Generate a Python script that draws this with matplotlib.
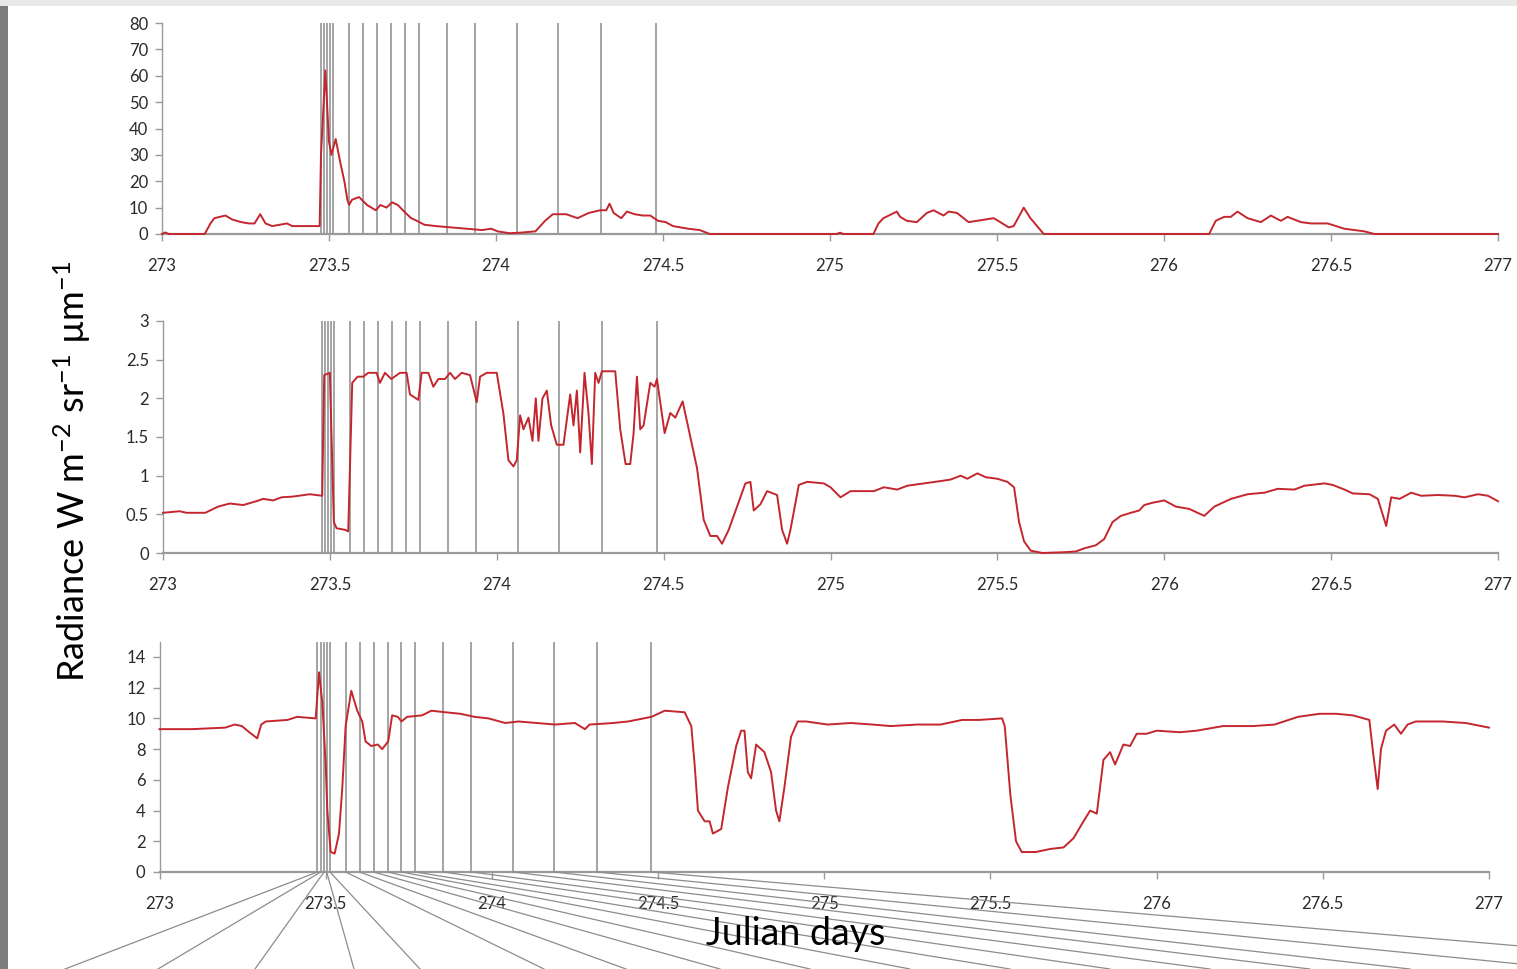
import matplotlib
matplotlib.use("Agg")
import matplotlib.pyplot as plt
from matplotlib.lines import Line2D
from matplotlib.patches import Rectangle

plt.rcParams['font.family'] = ['Lato', 'DejaVu Sans']
plt.rcParams['mathtext.fontset'] = 'custom'
plt.rcParams['mathtext.rm'] = 'Lato'
plt.rcParams['mathtext.it'] = 'Lato:italic'
plt.rcParams['mathtext.bf'] = 'Lato:bold'

# ---------------- data ----------------
xticks = [273, 273.5, 274, 274.5, 275, 275.5, 276, 276.5, 277]
xtick_labels = ['273', '273.5', '274', '274.5', '275', '275.5', '276', '276.5', '277']

event_days = [273.475, 273.485, 273.495, 273.503, 273.513, 273.560, 273.602, 273.644,
              273.686, 273.728, 273.770, 273.854, 273.938, 274.064, 274.187, 274.315, 274.480]

top_days = [273.000, 273.010, 273.020, 273.128, 273.145, 273.157, 273.190, 273.210, 273.237, 273.260,
            273.277, 273.294, 273.310, 273.330, 273.374, 273.390, 273.472, 273.476, 273.489, 273.500,
            273.507, 273.520, 273.534, 273.546, 273.555, 273.560, 273.569, 273.590, 273.614, 273.640,
            273.654, 273.672, 273.689, 273.706, 273.729, 273.746, 273.763, 273.786, 273.820, 273.866,
            273.912, 273.958, 273.986, 274.005, 274.040, 274.072, 274.118, 274.147, 274.170, 274.210,
            274.244, 274.278, 274.312, 274.330, 274.340, 274.352, 274.375, 274.392, 274.415, 274.440,
            274.462, 274.485, 274.508, 274.530, 274.575, 274.610, 274.640, 275.020, 275.030, 275.040,
            275.130, 275.145, 275.160, 275.200, 275.210, 275.230, 275.260, 275.290, 275.310, 275.340,
            275.355, 275.380, 275.415, 275.440, 275.465, 275.490, 275.510, 275.535, 275.550, 275.580,
            275.600, 275.640, 276.135, 276.155, 276.180, 276.200, 276.220, 276.250, 276.290, 276.320,
            276.350, 276.370, 276.410, 276.440, 276.490, 276.540, 276.600, 276.630, 277.000]
top_vals = [0.0, 0.6, 0.0, 0.0, 4.0, 6.0, 7.0, 5.5, 4.5, 4.0,
            4.0, 7.5, 4.0, 3.0, 4.0, 3.0, 3.0, 30.0, 62.0, 35.0,
            30.0, 36.0, 27.0, 20.0, 13.0, 11.0, 13.0, 14.0, 11.0, 9.0,
            11.0, 10.0, 12.0, 11.0, 8.0, 6.0, 5.0, 3.5, 3.0, 2.5,
            2.0, 1.5, 2.0, 1.0, 0.3, 0.5, 1.0, 5.0, 7.5, 7.5,
            6.0, 8.0, 9.0, 9.0, 11.5, 8.0, 6.0, 8.5, 7.5, 7.0,
            7.0, 5.0, 4.5, 3.0, 2.0, 1.5, 0.0, 0.0, 0.5, 0.0,
            0.0, 4.0, 6.0, 8.5, 6.5, 5.0, 4.5, 8.0, 9.0, 7.0,
            8.5, 8.0, 4.5, 5.0, 5.5, 6.0, 4.5, 2.5, 3.0, 10.0,
            6.0, 0.0, 0.0, 5.0, 6.5, 6.5, 8.5, 6.0, 4.5, 7.0,
            5.0, 6.5, 4.5, 4.0, 4.0, 2.0, 1.0, 0.0, 0.0]

mid_days = [273.000, 273.050, 273.070, 273.127, 273.165, 273.200, 273.240, 273.280, 273.300, 273.330,
            273.355, 273.390, 273.440, 273.477, 273.483, 273.500, 273.505, 273.512, 273.520, 273.545,
            273.555, 273.567, 273.583, 273.600, 273.615, 273.640, 273.650, 273.665, 273.684, 273.710,
            273.730, 273.740, 273.765, 273.775, 273.795, 273.810, 273.825, 273.845, 273.860, 273.875,
            273.895, 273.920, 273.940, 273.950, 273.970, 274.000, 274.020, 274.035, 274.050, 274.060,
            274.070, 274.080, 274.095, 274.107, 274.117, 274.125, 274.137, 274.150, 274.163, 274.180,
            274.200, 274.220, 274.230, 274.240, 274.250, 274.263, 274.275, 274.285, 274.295, 274.305,
            274.315, 274.355, 274.370, 274.386, 274.400, 274.410, 274.420, 274.430, 274.440, 274.460,
            274.473, 274.480, 274.503, 274.520, 274.535, 274.557, 274.580, 274.600, 274.620, 274.640,
            274.660, 274.675, 274.695, 274.720, 274.745, 274.760, 274.770, 274.790, 274.810, 274.840,
            274.855, 274.870, 274.880, 274.905, 274.930, 274.980, 275.000, 275.030, 275.060, 275.130,
            275.160, 275.200, 275.230, 275.280, 275.330, 275.360, 275.390, 275.410, 275.440, 275.465,
            275.500, 275.530, 275.550, 275.565, 275.580, 275.600, 275.635, 275.700, 275.735, 275.760,
            275.795, 275.820, 275.845, 275.870, 275.900, 275.925, 275.940, 275.965, 276.000, 276.035,
            276.075, 276.100, 276.120, 276.150, 276.200, 276.250, 276.300, 276.340, 276.390, 276.420,
            276.480, 276.505, 276.540, 276.565, 276.615, 276.640, 276.665, 276.680, 276.705, 276.740,
            276.770, 276.820, 276.870, 276.900, 276.940, 276.970, 277.000]
mid_vals = [0.52, 0.54, 0.52, 0.52, 0.60, 0.64, 0.62, 0.67, 0.70, 0.68,
            0.72, 0.73, 0.76, 0.74, 2.30, 2.33, 1.50, 0.40, 0.32, 0.30,
            0.28, 2.20, 2.28, 2.28, 2.33, 2.33, 2.20, 2.33, 2.25, 2.33,
            2.33, 2.05, 1.98, 2.33, 2.33, 2.15, 2.25, 2.25, 2.33, 2.25,
            2.33, 2.30, 1.95, 2.28, 2.33, 2.33, 1.80, 1.20, 1.12, 1.20,
            1.78, 1.60, 1.75, 1.45, 2.00, 1.45, 2.00, 2.10, 1.65, 1.40,
            1.40, 2.05, 1.65, 2.10, 1.30, 2.33, 1.80, 1.15, 2.33, 2.20,
            2.35, 2.35, 1.60, 1.15, 1.15, 1.55, 2.28, 1.60, 1.65, 2.20,
            2.15, 2.25, 1.55, 1.81, 1.75, 1.96, 1.50, 1.10, 0.43, 0.22,
            0.22, 0.12, 0.30, 0.60, 0.90, 0.92, 0.55, 0.63, 0.80, 0.75,
            0.30, 0.12, 0.30, 0.88, 0.92, 0.90, 0.85, 0.72, 0.80, 0.80,
            0.85, 0.82, 0.87, 0.90, 0.93, 0.95, 1.00, 0.96, 1.03, 0.98,
            0.96, 0.92, 0.85, 0.40, 0.15, 0.03, 0.00, 0.01, 0.02, 0.06,
            0.10, 0.18, 0.40, 0.48, 0.52, 0.55, 0.62, 0.65, 0.68, 0.60,
            0.57, 0.52, 0.48, 0.60, 0.70, 0.76, 0.78, 0.83, 0.82, 0.87,
            0.90, 0.88, 0.82, 0.77, 0.76, 0.70, 0.35, 0.72, 0.70, 0.78,
            0.74, 0.75, 0.74, 0.72, 0.76, 0.74, 0.67]

bot_days = [273.000, 273.097, 273.198, 273.226, 273.248, 273.270, 273.294, 273.306, 273.320, 273.385,
            273.414, 273.470, 273.480, 273.490, 273.500, 273.505, 273.515, 273.527, 273.540, 273.550,
            273.560, 273.577, 273.595, 273.610, 273.620, 273.637, 273.657, 273.670, 273.688, 273.700,
            273.717, 273.728, 273.745, 273.790, 273.818, 273.860, 273.905, 273.948, 273.990, 274.040,
            274.080, 274.135, 274.190, 274.250, 274.280, 274.294, 274.365, 274.410, 274.480, 274.520,
            274.580, 274.600, 274.610, 274.620, 274.640, 274.655, 274.665, 274.690, 274.710, 274.735,
            274.750, 274.760, 274.770, 274.780, 274.795, 274.820, 274.840, 274.855, 274.865, 274.880,
            274.900, 274.920, 274.945, 275.010, 275.080, 275.145, 275.200, 275.280, 275.350, 275.415,
            275.465, 275.535, 275.543, 275.560, 275.577, 275.594, 275.636, 275.680, 275.720, 275.750,
            275.780, 275.800, 275.820, 275.840, 275.860, 275.875, 275.900, 275.920, 275.940, 275.970,
            276.000, 276.070, 276.120, 276.200, 276.290, 276.355, 276.425, 276.490, 276.540, 276.590,
            276.640, 276.650, 276.665, 276.675, 276.690, 276.715, 276.735, 276.755, 276.780, 276.860,
            276.930, 277.000]
bot_vals = [9.3, 9.3, 9.4, 9.6, 9.5, 9.1, 8.7, 9.6, 9.8, 9.9,
            10.1, 10.0, 13.0, 11.0, 7.0, 4.0, 1.3, 1.2, 2.5, 5.5,
            9.5, 11.8, 10.5, 9.8, 8.5, 8.2, 8.3, 8.0, 8.5, 10.2,
            10.1, 9.8, 10.1, 10.2, 10.5, 10.4, 10.3, 10.1, 10.0, 9.7,
            9.8, 9.7, 9.6, 9.7, 9.3, 9.6, 9.7, 9.8, 10.1, 10.5,
            10.4, 9.5, 7.0, 4.0, 3.3, 3.3, 2.5, 2.8, 5.5, 8.2,
            9.2, 9.2, 6.5, 6.1, 8.3, 7.8, 6.5, 4.0, 3.3, 5.5,
            8.8, 9.8, 9.8, 9.6, 9.7, 9.6, 9.5, 9.6, 9.6, 9.9,
            9.9, 10.0, 9.5, 5.0, 2.0, 1.3, 1.3, 1.5, 1.6, 2.2,
            3.3, 4.0, 3.8, 7.3, 7.8, 7.0, 8.3, 8.2, 9.0, 9.0,
            9.2, 9.1, 9.2, 9.5, 9.5, 9.6, 10.1, 10.3, 10.3, 10.2,
            9.9, 8.0, 5.4, 8.0, 9.2, 9.6, 9.0, 9.6, 9.8, 9.8,
            9.7, 9.4]

top_yticks = [0, 10, 20, 30, 40, 50, 60, 70, 80]
mid_yticks = [0, 0.5, 1, 1.5, 2, 2.5, 3]
mid_ytick_labels = ['0', '0.5', '1', '1.5', '2', '2.5', '3']
bot_yticks = [0, 2, 4, 6, 8, 10, 12, 14]

# ---------------- layout ----------------
W, H = 1517, 969
fig = plt.figure(figsize=(W / 100, H / 100), dpi=100)
fig.patch.set_facecolor('white')


def rect(left, right, top, bottom):
    return [left / W, 1 - bottom / H, (right - left) / W, (bottom - top) / H]


ax1 = fig.add_axes(rect(162, 1498, 23, 234))
ax2 = fig.add_axes(rect(163, 1498, 321, 553))
ax3 = fig.add_axes(rect(159.5, 1489, 641.6, 872))

RED = '#c4262e'
VGRAY = '#8c8c8c'
SPINE = '#9a9a9a'


def style(ax, ylim, yticks, ylabels=None):
    ax.set_facecolor('none')
    ax.set_xlim(273, 277)
    ax.set_ylim(*ylim)
    ax.set_xticks(xticks)
    ax.set_xticklabels(xtick_labels)
    ax.set_yticks(yticks)
    if ylabels is not None:
        ax.set_yticklabels(ylabels)
    for s in ('top', 'right'):
        ax.spines[s].set_visible(False)
    ax.spines['left'].set_color(SPINE)
    ax.spines['left'].set_linewidth(1.0)
    ax.spines['bottom'].set_color(SPINE)
    ax.spines['bottom'].set_linewidth(1.6)
    ax.tick_params(axis='x', direction='out', length=5, width=1, color=SPINE,
                   pad=12, labelsize=12, labelcolor='#2a2a2a')
    ax.tick_params(axis='y', direction='out', length=5, width=1, color=SPINE,
                   pad=5, labelsize=12, labelcolor='#2a2a2a')
    for v in event_days:
        ax.axvline(v, color=VGRAY, lw=1.1, zorder=1)


style(ax1, (0, 80), top_yticks)
style(ax2, (0, 3), mid_yticks, mid_ytick_labels)
style(ax3, (0, 15), bot_yticks)

ax1.plot(top_days, top_vals, color=RED, lw=1.4, zorder=3, clip_on=False)
ax2.plot(mid_days, mid_vals, color=RED, lw=1.4, zorder=3, clip_on=False)
ax3.plot(bot_days, bot_vals, color=RED, lw=1.4, zorder=3, clip_on=False)

# fan of connector lines from the event markers towards the bottom of the slide
fan_end_x = [65, 158, 255, 354, 420, 544, 626, 720, 810, 910, 1010, 1110, 1210, 1310, 1410, 1570, 1790]
inv = fig.transFigure.inverted()
for v, ex in zip(event_days, fan_end_x):
    sx, sy = ax3.transData.transform((v, 0))
    p0 = inv.transform((sx, sy))
    p1 = inv.transform((ex, 0))
    fig.add_artist(Line2D([p0[0], p1[0]], [p0[1], p1[1]], transform=fig.transFigure,
                          color=VGRAY, lw=0.9, zorder=5))

# slide edges
fig.add_artist(Rectangle((0, 0), 8 / W, 1, transform=fig.transFigure,
                         facecolor='#7c7c7c', edgecolor='none', zorder=-1))
fig.add_artist(Rectangle((0, 1 - 6 / H), 1, 6 / H, transform=fig.transFigure,
                         facecolor='#e8e8e8', edgecolor='none', zorder=-1))

fig.text(72 / W, 1 - 471 / H, 'Radiance W m$^{-2}$ sr$^{-1}$ µm$^{-1}$', rotation=90,
         ha='center', va='center', fontsize=26, color='black')
fig.text(796 / W, 1 - 934 / H, 'Julian days', ha='center', va='center',
         fontsize=27, color='black', zorder=6)

fig.savefig('out.png', dpi=100)
